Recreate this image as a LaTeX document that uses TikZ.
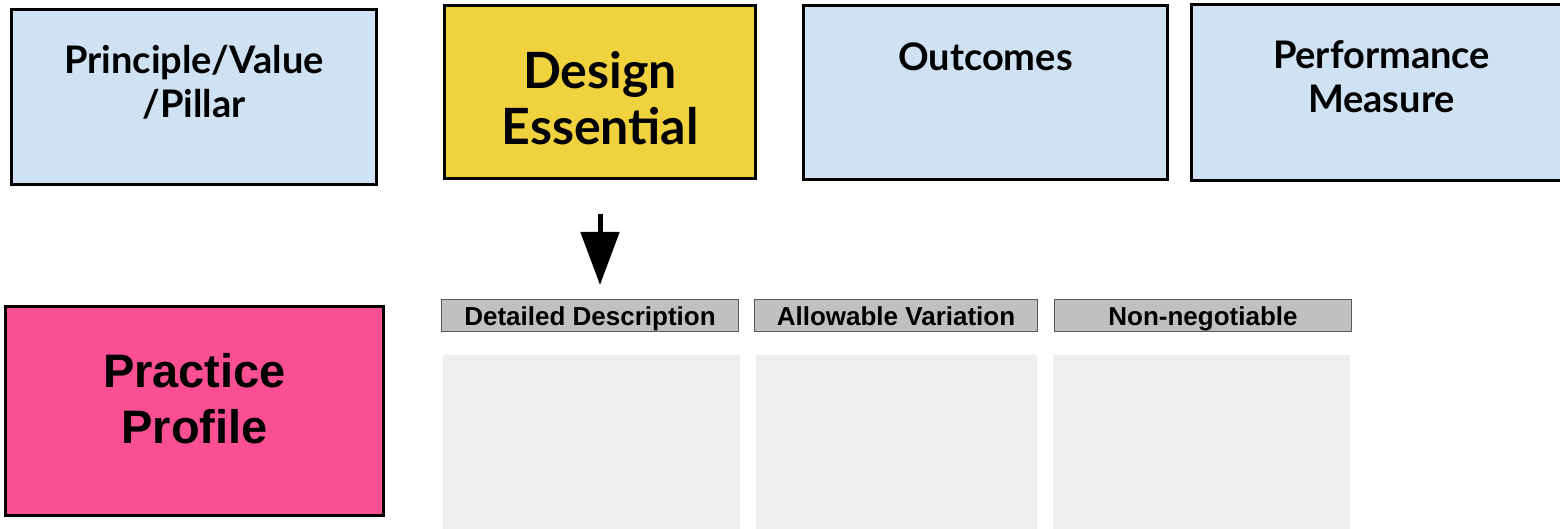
\documentclass[tikz,border=0pt]{standalone}
\usepackage{fontspec}
\usepackage{xcolor}
\usetikzlibrary{arrows.meta}
\newfontfamily\headfont{Lato}
\newfontfamily\arialfont{Liberation Sans}
\definecolor{paleblue}{HTML}{CFE2F3}
\definecolor{essyellow}{HTML}{F0D13E}
\definecolor{profpink}{HTML}{FA4F93}
\definecolor{hdrgray}{HTML}{C0C0C0}
\definecolor{panelgray}{HTML}{EFEFEF}

\begin{document}
\begin{tikzpicture}[x=0.5pt, y=-0.5pt,
    topbox/.style = {draw=black, line width=1.5pt, anchor=north west, inner sep=0pt},
    toptext/.style = {font=\headfont\bfseries\fontsize{19}{22}\selectfont, align=center, anchor=north},
    hdrbox/.style = {draw=black!65, line width=0.5pt, fill=hdrgray, anchor=north west, inner sep=0pt,
                     minimum height=16pt, text height=11pt, text depth=1pt,
                     font=\arialfont\bfseries\fontsize{13}{15}\selectfont},
    panel/.style = {fill=panelgray, anchor=north west, inner sep=0pt, minimum height=90pt}]
					\clip (0, 0) rectangle (1560, 529);

					% top row
					\node[topbox, fill=paleblue, minimum width=182.5pt, minimum height=87.5pt] (prin) at (10, 8) {};
					\node[topbox, fill=essyellow, minimum width=155.5pt, minimum height=86.5pt] (des) at (443, 4) {};
					\node[topbox, fill=paleblue, minimum width=182pt, minimum height=87pt] (outc) at (802, 4) {};
					\node[topbox, fill=paleblue, minimum width=190pt, minimum height=88pt] (perf) at (1190, 3) {};

					\node[toptext] (prinT) at ([yshift=-15pt]prin.north) {Principle/Value\\/Pillar};
					\node[toptext, anchor=center, font=\headfont\bfseries\fontsize{25}{28}\selectfont] (desT) at ([yshift=-3pt]des.center) {Design\\Essential};
					\node[toptext] (outcT) at ([yshift=-16pt]outc.north) {Outcomes};
					\node[toptext] (perfT) at ([yshift=-15pt]perf.north) {Performance\\Measure};

					% bottom row
					\node[topbox, fill=profpink, minimum width=189pt, minimum height=104.5pt] (prof) at (4, 305) {};
					\node[font=\arialfont\bfseries\fontsize{23.5}{28}\selectfont, align=center] (profT) at ([yshift=6pt]prof.center) {Practice\\Profile};

					\node[hdrbox, minimum width=148.5pt] (hDet) at (441, 299) {Detailed Description};
					\node[hdrbox, minimum width=141.5pt] (hAll) at (754, 299) {Allowable Variation};
					\node[hdrbox, minimum width=148.5pt] (hNon) at (1054, 299) {Non-negotiable};

					\node[panel, minimum width=148.5pt] (pDet) at (443, 355) {};
					\node[panel, minimum width=140.5pt] (pAll) at (756, 355) {};
					\node[panel, minimum width=148.5pt] (pNon) at (1053, 355) {};

					% arrow
					\coordinate (arrowTop) at ([yshift=-17pt]des.south);
					\coordinate (arrowTip) at (arrowTop |- 0, 285);
					\draw[line width=2.5pt, -{Triangle[width=19pt, length=26.5pt]}] (arrowTop) -- (arrowTip);
				\end{tikzpicture}
\end{document}
